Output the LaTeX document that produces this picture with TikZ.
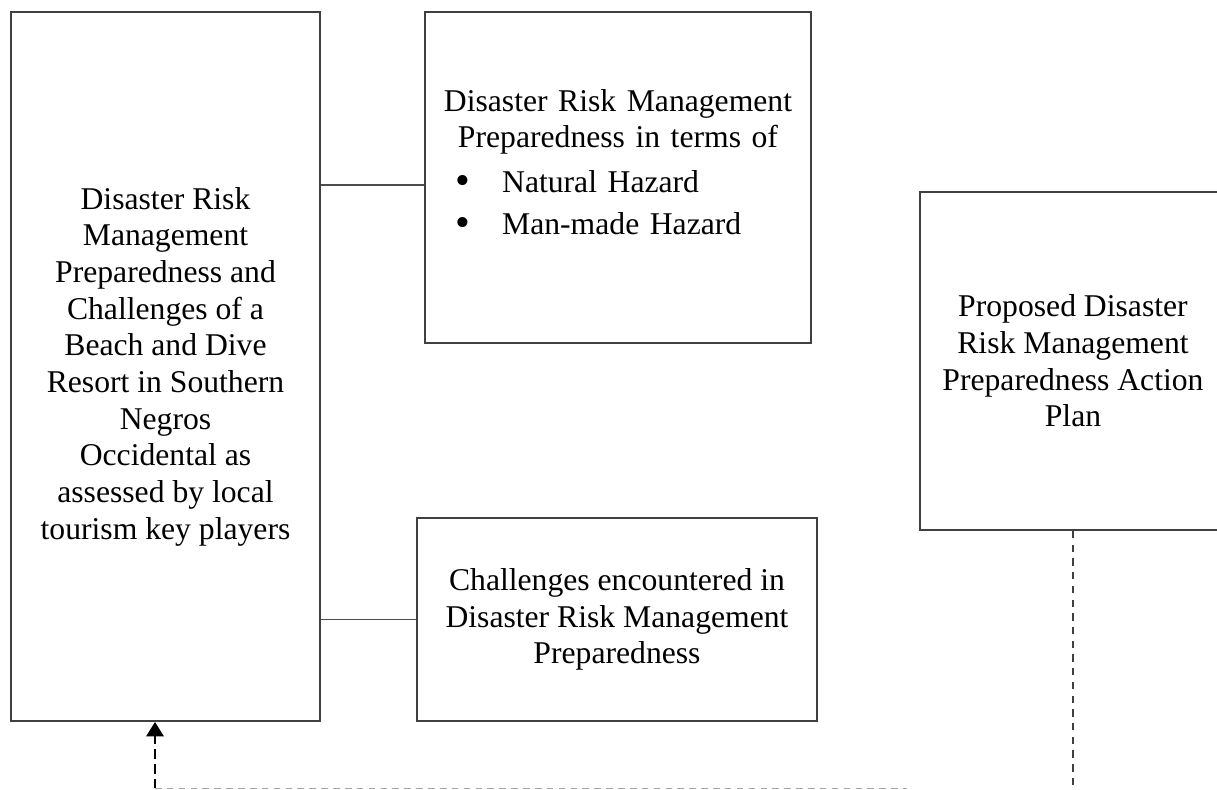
\documentclass[tikz,border=0pt]{standalone}
\usepackage{fontspec}
\setmainfont{Liberation Serif}
\usetikzlibrary{positioning,arrows.meta}
\tikzstyle{blk}=[draw=black!75, line width=0.7pt, align=center, inner sep=2pt, font=\fontsize{12}{13.9}\selectfont]
\tikzstyle{txt}=[align=center, inner sep=0pt, font=\fontsize{12}{13.9}\selectfont]
\tikzstyle{link}=[draw=black!70, line width=0.6pt]
\newcommand{\bigdot}{\raisebox{-0.15ex}{\fontsize{16}{1}\selectfont\textbullet}}

\begin{document}
\begin{tikzpicture}[x=0.01332cm, y=-0.01332cm]
		\useasboundingbox (0,0) rectangle (1217,790);
		\node[blk, minimum width=4.116cm, minimum height=9.444cm] (drm) at (165.5,366.5) {Disaster Risk\\Management\\Preparedness and\\Challenges of a\\Beach and Dive\\Resort in Southern\\Negros\\Occidental as\\assessed by local\\tourism key players};
		\node[blk, minimum width=5.142cm, minimum height=4.409cm] (prep) at (618,177.5) {};
		\node[txt, text width=5cm] (preptext) at (618,163) {Disaster Risk Management\\Preparedness in terms of\\[3pt]
			\makebox[\linewidth][l]{\hspace*{0.34cm}\bigdot\hspace*{0.42cm}Natural Hazard}\\[2pt]
			\makebox[\linewidth][l]{\hspace*{0.34cm}\bigdot\hspace*{0.42cm}Man-made Hazard}};
		\node[blk, minimum width=5.328cm, minimum height=2.704cm] (chal) at (617,619.5) {Challenges encountered in\\Disaster Risk Management\\Preparedness};
		\node[blk, minimum width=4.076cm, minimum height=4.502cm] (plan) at (1073,361) {Proposed Disaster\\Risk Management\\Preparedness Action\\Plan};
		\coordinate (prepin) at ([yshift=-0.1cm]prep.west);
		\coordinate (loopL) at (155,788.5);
		\coordinate (loopM) at (907,788.5);
		\coordinate (loopR) at (1073,790);
		\draw[link] (drm.east |- prepin) -- (prepin);
		\draw[link] (drm.east |- chal.west) -- (chal.west);
		\draw[black!75, line width=0.6pt, dash pattern=on 2.8pt off 2.4pt] (plan.south) -- (loopR);
		\draw[black!35, line width=0.5pt, dash pattern=on 2.5pt off 2pt] (loopL) -- (loopM);
		\draw[line width=1.1pt, dash pattern=on 3.6pt off 2pt, -{Triangle[width=6.5pt,length=5.5pt]}] (loopL) -- (loopL |- drm.south);
\end{tikzpicture}
\end{document}
